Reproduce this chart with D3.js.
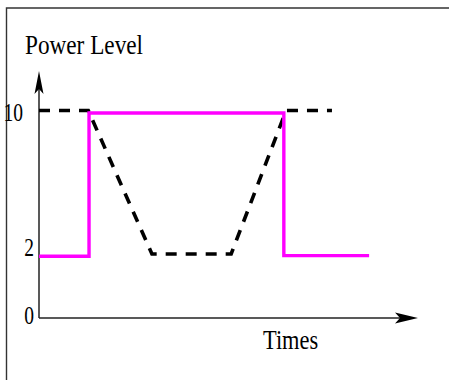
<!DOCTYPE html>
<html>
<head>
<meta charset="utf-8">
<script src="https://cdn.jsdelivr.net/npm/d3@7"></script>
<style>
  body { margin: 0; background: #fff; }
  svg { display: block; }
  text { font-family: "Liberation Serif", "Times New Roman", serif; fill: #000; }
</style>
</head>
<body>
<svg id="chart" width="449" height="380"></svg>
<script>
// Level ticks shown on the vertical axis
const levelTicks = [0, 2, 10];
const tickLabels = ["0", "2", "10"];

// Target power profile (dashed): time, level
const targetTime  = [0, 13, 29.8, 50.7, 65.2, 77.3];
const targetLevel = [10, 10, 2, 2, 10, 10];

// Delivered power (magenta step curve): time, level
const powerTime  = [0, 13.2, 13.2, 64.6, 64.6, 87.1];
const powerLevel = [1.93, 1.93, 9.86, 9.86, 1.95, 1.95];

const axisTitleY = "Power Level";
const axisTitleX = "Times";

const svg = d3.select("#chart");

// Schematic level axis: the low band is stretched relative to the high band
const x = d3.scaleLinear().domain([0, 100]).range([39, 418]);
const y = d3.scaleLinear().domain([0, 2, 10]).range([318, 254, 110.5]);

// Outer frame (top and left edges)
svg.append("path")
  .attr("d", "M6.5,380 V8 H449")
  .attr("fill", "none")
  .attr("stroke", "#333")
  .attr("stroke-width", 1.4);

// Axes with arrowheads
const x0 = x.range()[0], x1 = x.range()[1];
const y0 = y(0), yTop = 71;

svg.append("line")
  .attr("x1", x0).attr("y1", y0).attr("x2", x0).attr("y2", yTop + 14)
  .attr("stroke", "#222").attr("stroke-width", 1.5);
svg.append("line")
  .attr("x1", x0).attr("y1", y0).attr("x2", x1 - 16).attr("y2", y0)
  .attr("stroke", "#222").attr("stroke-width", 1.5);

svg.append("path")
  .attr("d", `M${x0},${yTop} L${x0 - 4.5},${yTop + 23} L${x0},${yTop + 18} L${x0 + 4.5},${yTop + 23} Z`)
  .attr("fill", "#000");
svg.append("path")
  .attr("d", `M${x1},${y0} L${x1 - 23},${y0 - 5.5} L${x1 - 18},${y0} L${x1 - 23},${y0 + 5.5} Z`)
  .attr("fill", "#000");

// Tick labels
const tickG = svg.append("g");
tickG.selectAll("text")
  .data(levelTicks)
  .join("text")
  .attr("transform", (d, i) => {
    const tx = tickLabels[i].length > 1 ? 23 : 34;
    const ty = d === 0 ? y(d) + 6 : (d === 2 ? y(d) + 2 : y(d) + 10);
    return `translate(${tx},${ty}) scale(0.75,1)`;
  })
  .attr("text-anchor", "end")
  .attr("font-size", 26)
  .text((d, i) => tickLabels[i]);

// Axis titles
svg.append("text")
  .attr("transform", "translate(25,54) scale(0.83,1)")
  .attr("font-size", 28)
  .text(axisTitleY);
svg.append("text")
  .attr("transform", "translate(263,348.5) scale(0.8,1)")
  .attr("font-size", 28)
  .text(axisTitleX);

// Target profile (dashed)
const target = targetTime.map((t, i) => [t, targetLevel[i]]);
svg.append("path")
  .datum(target)
  .attr("d", d3.line().x(d => x(d[0])).y(d => y(d[1])))
  .attr("fill", "none")
  .attr("stroke", "#000")
  .attr("stroke-width", 3.6)
  .attr("stroke-dasharray", "11,9");

// Delivered power (solid magenta)
const power = powerTime.map((t, i) => [t, powerLevel[i]]);
svg.append("path")
  .datum(power)
  .attr("d", d3.line().x(d => x(d[0])).y(d => y(d[1])))
  .attr("fill", "none")
  .attr("stroke", "#ff00ff")
  .attr("stroke-width", 3.4)
  .attr("stroke-linejoin", "miter");
</script>
</body>
</html>
